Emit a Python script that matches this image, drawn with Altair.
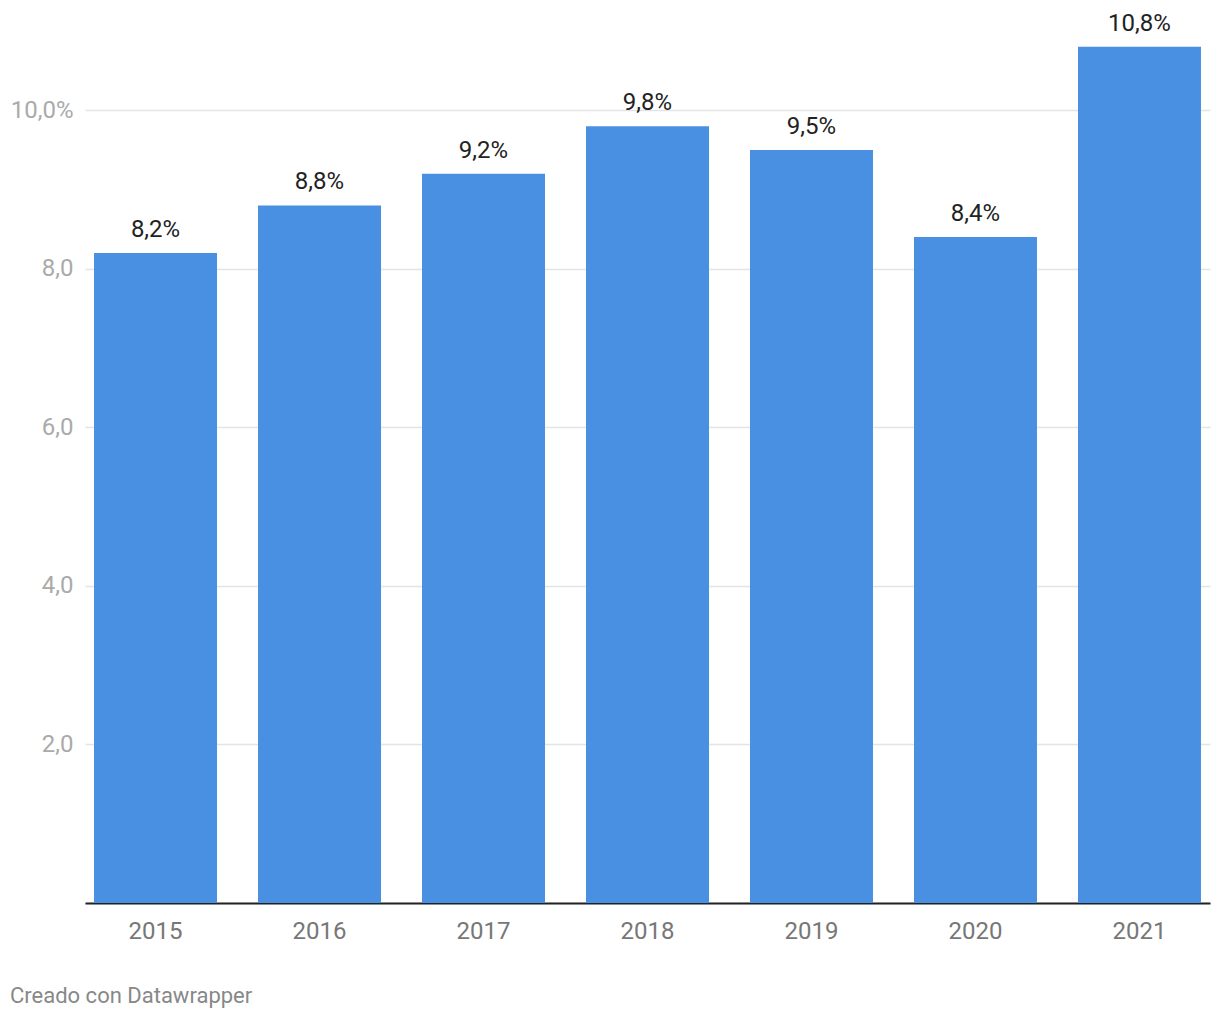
import altair as alt
import pandas as pd

years = ["2015", "2016", "2017", "2018", "2019", "2020", "2021"]
values = [8.2, 8.8, 9.2, 9.8, 9.5, 8.4, 10.8]
labels = ["8,2%", "8,8%", "9,2%", "9,8%", "9,5%", "8,4%", "10,8%"]
y_ticks = [0, 2, 4, 6, 8, 10]
footer = ["Creado con Datawrapper"]

df = pd.DataFrame({"year": years, "value": values, "label": labels})

FONT = "Roboto"

x = alt.X("year:N", sort=years, title=None,
          scale=alt.Scale(paddingInner=0.25, paddingOuter=0.055),
          axis=alt.Axis(labelAngle=0, labelFont=FONT, labelFontSize=24,
                        labelColor="#777777", labelPadding=16, ticks=False,
                        domain=True, domainColor="#222222", domainWidth=2,
                        grid=False))
y = alt.Y("value:Q", title=None,
          scale=alt.Scale(domain=[0, 11], nice=False),
          axis=alt.Axis(values=y_ticks, labelFont=FONT, labelFontSize=24,
                        labelColor="#aaaaaa", labelPadding=12, ticks=False,
                        domain=False, grid=True, gridColor="#e4e4e4",
                        gridWidth=1.5,
                        labelExpr="datum.value == 10 ? '10,0%' : (datum.value == 0 ? '' : replace(format(datum.value, '.1f'), '.', ','))"))

bars = alt.Chart(df).mark_bar(color="#4a90e2").encode(x=x, y=y)
text = alt.Chart(df).mark_text(font=FONT, fontSize=24, color="#222222",
                               baseline="alphabetic", dy=-16).encode(
    x=alt.X("year:N", sort=years), y="value:Q", text="label:N")

foot = alt.Chart(pd.DataFrame({"t": footer})).mark_text(
    font=FONT, fontSize=22, color="#888888", align="left", baseline="middle"
).encode(text="t:N", x=alt.value(-75), y=alt.value(965))

chart = (bars + text + foot).properties(
    width=1125, height=872,
    autosize=alt.AutoSizeParams(type="none"),
    padding={"left": 85, "top": 31, "right": 10, "bottom": 117},
).configure_view(stroke=None)

chart.save("out.html", embed_options={"renderer": "svg", "actions": False})
